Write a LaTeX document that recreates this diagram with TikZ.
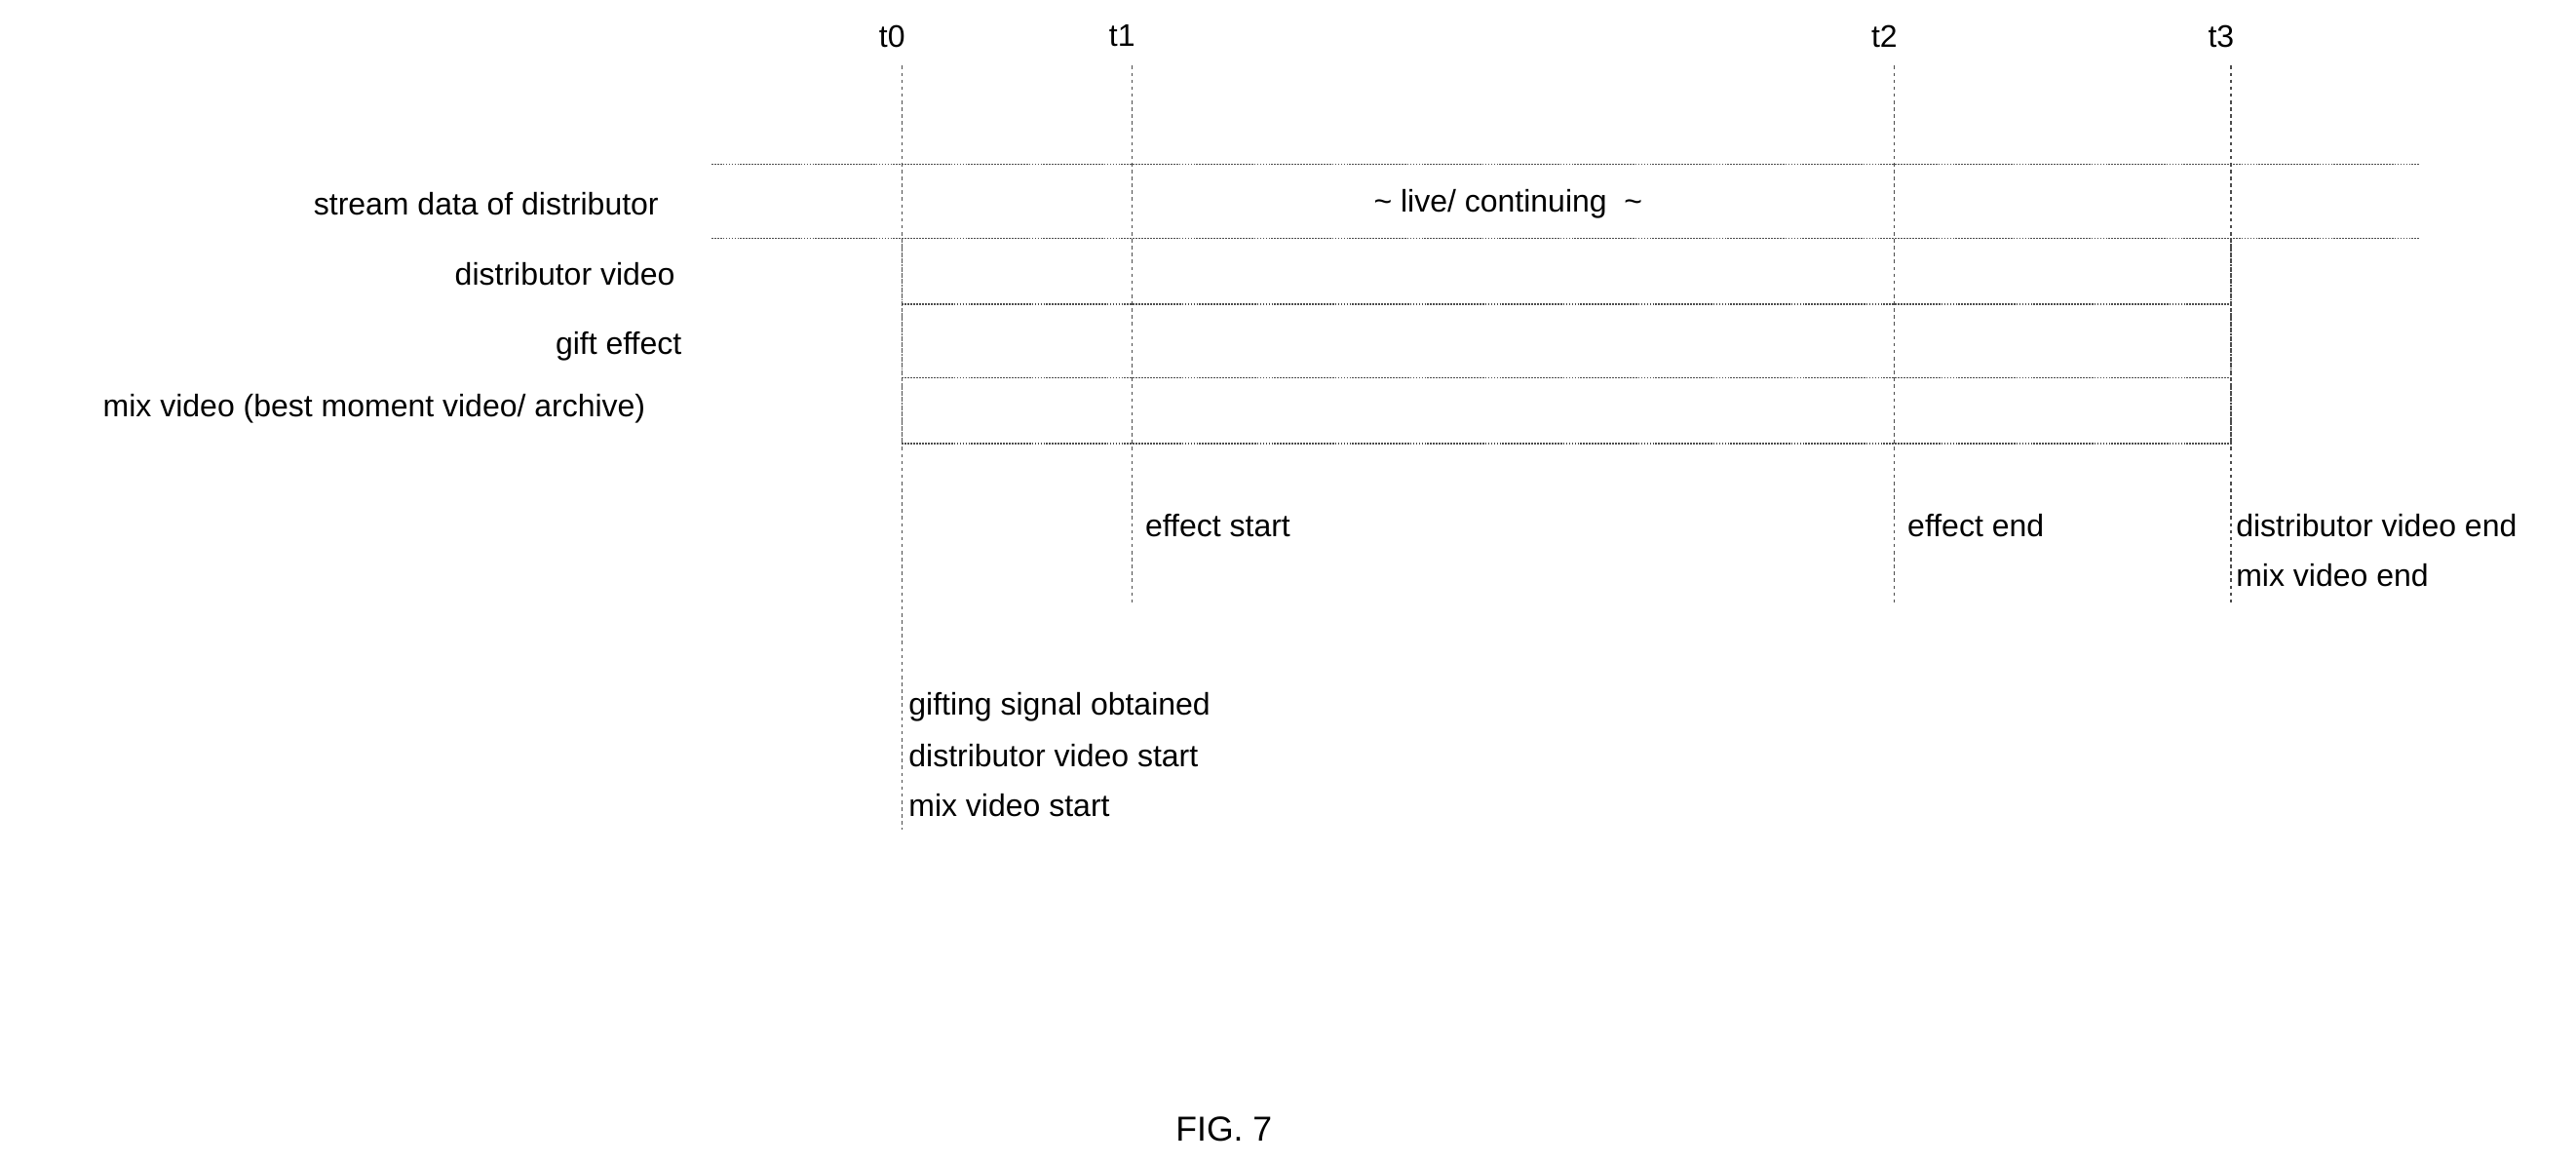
\documentclass[tikz,border=0pt]{standalone}
\usepackage{fontspec}
\setmainfont{Liberation Sans}
\begin{document}
\begin{tikzpicture}[x=0.05cm,y=-0.05cm,
  ln/.style={draw=black!70,line width=1.2pt,dash pattern=on 1.5pt off 1pt},
  vl/.style={draw=black!70,line width=1.2pt,dash pattern=on 3pt off 3pt},
  txt/.style={font=\fontsize{27}{32}\selectfont,inner sep=0pt}]
\useasboundingbox (0,0) rectangle (1568,708);
% time labels
\foreach \n/\x in {0/549,1/689,2/1153,3/1358}{
  \node[txt] (t\n) at (\x-6,22) {t\n};
  \coordinate (top\n) at (\x,40);
}
\coordinate (bot0) at (549,505);
\coordinate (bot1) at (689,367);
\coordinate (bot2) at (1153,367);
\coordinate (bot3) at (1358,367);
\foreach \n in {0,1,2,3}{\draw[vl] (top\n) -- (bot\n);}
% horizontal lines
\coordinate (a1) at (433,100); \coordinate (a2) at (1473,100);
\coordinate (b1) at (433,145); \coordinate (b2) at (1473,145);
\draw[ln] (a1) -- (a2);
\draw[ln] (b1) -- (b2);
\coordinate (c1) at (549,145); \coordinate (c2) at (1358,145);
\coordinate (d1) at (549,270); \coordinate (d2) at (1358,270);
\draw[ln] (549,185) -- (1358,185);
\draw[ln] (549,230) -- (1358,230);
\draw[ln] (d1) -- (d2);
\draw[ln] (c1) -- (d1);
\draw[ln] (c2) -- (d2);
% row labels
\node[txt,anchor=east] (r1) at (401,124) {stream data of distributor};
\node[txt,anchor=east] (r2) at (411,167) {distributor video};
\node[txt,anchor=east] (r3) at (415,211) {gift effect};
\node[txt,anchor=east] (r4) at (393,249) {mix video (best moment video/ archive)};
\node[txt] (live) at (918,124) {\textasciitilde{} live/ continuing\ \ \textasciitilde};
% event labels
\node[txt,anchor=west] (e1) at (697,320) {effect start};
\node[txt,anchor=west] (e2) at (1161,320) {effect end};
\node[txt,anchor=west] (e3) at (1361,320) {distributor video end};
\node[txt,anchor=west] (e4) at (1361,350) {mix video end};
\node[txt,anchor=west] (g1) at (553,430) {gifting signal obtained};
\node[txt,anchor=west] (g2) at (553,460) {distributor video start};
\node[txt,anchor=west] (g3) at (553,490) {mix video start};
\node[txt,font=\fontsize{30}{36}\selectfont] (fig) at (745,687) {FIG. 7};
\end{tikzpicture}
\end{document}
